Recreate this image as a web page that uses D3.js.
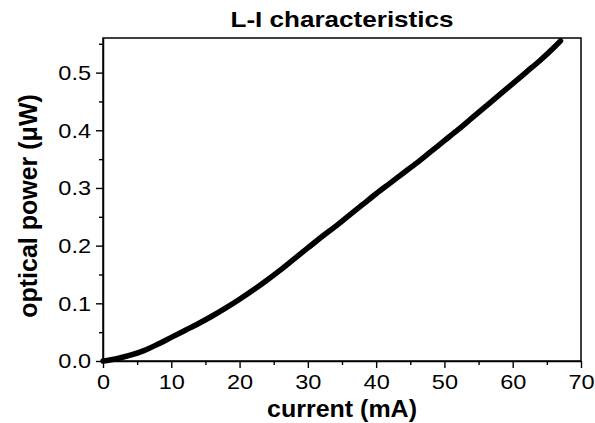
<!DOCTYPE html>
<html>
<head>
<meta charset="utf-8">
<script src="https://cdn.jsdelivr.net/npm/d3@7"></script>
<style>
  html, body { margin: 0; padding: 0; background: #fff; }
  svg { display: block; font-family: "Liberation Sans", Arial, sans-serif; }
</style>
</head>
<body>
<svg id="chart" width="595" height="423"></svg>
<script>
// L-I curve: drive current (mA) vs optical output power (µW)
const currentMA = [0, 2, 4, 6, 8, 10, 12, 14, 16, 18, 20, 22, 24, 26, 28, 30, 32, 34,
  36, 38, 40, 42, 44, 46, 48, 50, 52, 54, 56, 58, 60, 62, 64, 66, 67];
const powerUW = [0, 0.004, 0.010, 0.018, 0.029, 0.041, 0.053, 0.065, 0.078, 0.092,
  0.107, 0.123, 0.140, 0.158, 0.177, 0.196, 0.215, 0.233, 0.252, 0.271, 0.290,
  0.308, 0.326, 0.344, 0.363, 0.382, 0.401, 0.421, 0.441, 0.461, 0.481, 0.501,
  0.521, 0.543, 0.555];

const xTicks = [0, 10, 20, 30, 40, 50, 60, 70];
const xMinorTicks = [5, 15, 25, 35, 45, 55, 65];
const yTicks = [0.0, 0.1, 0.2, 0.3, 0.4, 0.5];
const yMinorTicks = [0.05, 0.15, 0.25, 0.35, 0.45, 0.55];

const titleText = "L-I characteristics";
const xTitle = "current (mA)";
const yTitle = "optical power (\u03bcW)";

const margin = { top: 38, right: 14, bottom: 62, left: 103 };
const width = 595, height = 423;
const innerW = width - margin.left - margin.right;
const innerH = height - margin.top - margin.bottom;

// horizontal widening applied to the upright lettering
const widen = 1.12;

const svg = d3.select("#chart");
const g = svg.append("g").attr("transform", `translate(${margin.left},${margin.top})`);

const x = d3.scaleLinear().domain([0, 70]).range([0, innerW]);
const y = d3.scaleLinear().domain([0, 0.56]).range([innerH, 0]);

function stretch(sel, factor) {
  sel.each(function () {
    const len = this.getComputedTextLength();
    d3.select(this)
      .attr("textLength", len * factor)
      .attr("lengthAdjust", "spacingAndGlyphs");
  });
}

// frame
g.append("rect")
  .attr("x", 0).attr("y", 0)
  .attr("width", innerW).attr("height", innerH)
  .attr("fill", "none").attr("stroke", "#000").attr("stroke-width", 1.5);

// x axis: major + minor ticks
const xAxis = g.append("g").attr("transform", `translate(0,${innerH})`)
  .call(d3.axisBottom(x).tickValues(xTicks).tickFormat(d3.format("d"))
    .tickSizeInner(7).tickSizeOuter(0).tickPadding(6));
g.append("g").attr("transform", `translate(0,${innerH})`)
  .call(d3.axisBottom(x).tickValues(xMinorTicks).tickFormat("")
    .tickSizeInner(4).tickSizeOuter(0))
  .call(s => s.select(".domain").remove());

// y axis: major + minor ticks
const yAxis = g.append("g")
  .call(d3.axisLeft(y).tickValues(yTicks).tickFormat(d3.format(".1f"))
    .tickSizeInner(7).tickSizeOuter(0).tickPadding(5));
g.append("g")
  .call(d3.axisLeft(y).tickValues(yMinorTicks).tickFormat("")
    .tickSizeInner(4).tickSizeOuter(0))
  .call(s => s.select(".domain").remove());

svg.selectAll(".domain").attr("stroke-width", 1.5);
svg.selectAll(".tick line").attr("stroke-width", 1.4);
[xAxis, yAxis].forEach(a => {
  const t = a.selectAll("text")
    .attr("font-size", 21).attr("fill", "#000")
    .attr("font-family", "'Liberation Sans', Arial, sans-serif");
  stretch(t, widen);
});

// curve
const line = d3.line()
  .x((d, i) => x(currentMA[i]))
  .y(d => y(d))
  .curve(d3.curveMonotoneX);

g.append("path")
  .datum(powerUW)
  .attr("d", line)
  .attr("fill", "none")
  .attr("stroke", "#000")
  .attr("stroke-width", 5.5)
  .attr("stroke-linecap", "round")
  .attr("stroke-linejoin", "round");

// titles
svg.append("text")
  .attr("x", 342).attr("y", 27)
  .attr("text-anchor", "middle")
  .attr("font-size", 22).attr("font-weight", "bold")
  .attr("textLength", 223).attr("lengthAdjust", "spacingAndGlyphs")
  .text(titleText);

svg.append("text")
  .attr("x", margin.left + innerW / 2).attr("y", 417)
  .attr("text-anchor", "middle")
  .attr("font-size", 23).attr("font-weight", "bold")
  .attr("textLength", 150).attr("lengthAdjust", "spacingAndGlyphs")
  .text(xTitle);

svg.append("text")
  .attr("transform", "translate(37,206) rotate(-90)")
  .attr("text-anchor", "middle")
  .attr("font-size", 25).attr("font-weight", "bold")
  .text(yTitle);
</script>
</body>
</html>
